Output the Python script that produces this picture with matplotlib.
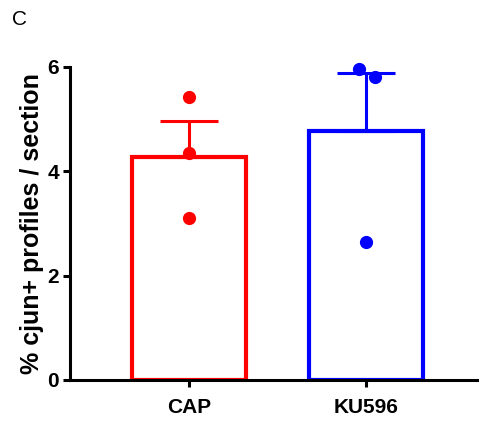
import matplotlib.pyplot as plt

groups = ['CAP', 'KU596']
means = [4.28, 4.77]
sem_upper = [0.68, 1.11]
colors = ['#ff0000', '#0000ff']

# individual points per group
cap_points = [5.43, 4.35, 3.10]
ku_points = [5.96, 5.80, 2.65]
cap_offsets = [0.0, 0.0, 0.0]
ku_offsets = [-0.04, 0.05, 0.0]

plt.rcParams['font.family'] = ['Liberation Sans', 'DejaVu Sans']

fig = plt.figure(figsize=(4.79, 4.24), dpi=100)
ax = fig.add_axes([0.146, 0.104, 0.854, 0.738])

x = [0, 1]
ax.bar(x, means, width=0.645, color='white', edgecolor=colors, linewidth=3, zorder=2)
for i in range(len(groups)):
    eb = ax.errorbar(x[i], means[i], yerr=[[0], [sem_upper[i]]], color=colors[i],
                     capsize=21, capthick=2.2, elinewidth=2.2, zorder=3)
    for art in eb.lines[1] + eb.lines[2]:
        art.set_clip_on(False)

all_points = [cap_points, ku_points]
all_offsets = [cap_offsets, ku_offsets]
for i in range(len(groups)):
    xs = [x[i] + o for o in all_offsets[i]]
    ax.plot(xs, all_points[i], 'o', color=colors[i], markersize=8.5, zorder=4, clip_on=False)

ax.set_xlim(-0.672, 1.64)
ax.set_ylim(0, 6)
ax.set_yticks([0, 2, 4, 6])
ax.set_xticks(x)
ax.set_xticklabels(groups, fontsize=15, fontweight='bold')
for lab in ax.get_yticklabels():
    lab.set_fontsize(15)
    lab.set_fontweight('bold')
ax.set_ylabel('% cjun+ profiles / section', fontsize=18, fontweight='bold', labelpad=2)

for s in ['top', 'right']:
    ax.spines[s].set_visible(False)
for s in ['left', 'bottom']:
    ax.spines[s].set_linewidth(2.2)
ax.tick_params(axis='both', width=2.2, length=5, pad=3)
ax.tick_params(axis='x', pad=8)

fig.text(0.025, 0.94, 'C', fontsize=15)

fig.savefig('out.png', dpi=100)
